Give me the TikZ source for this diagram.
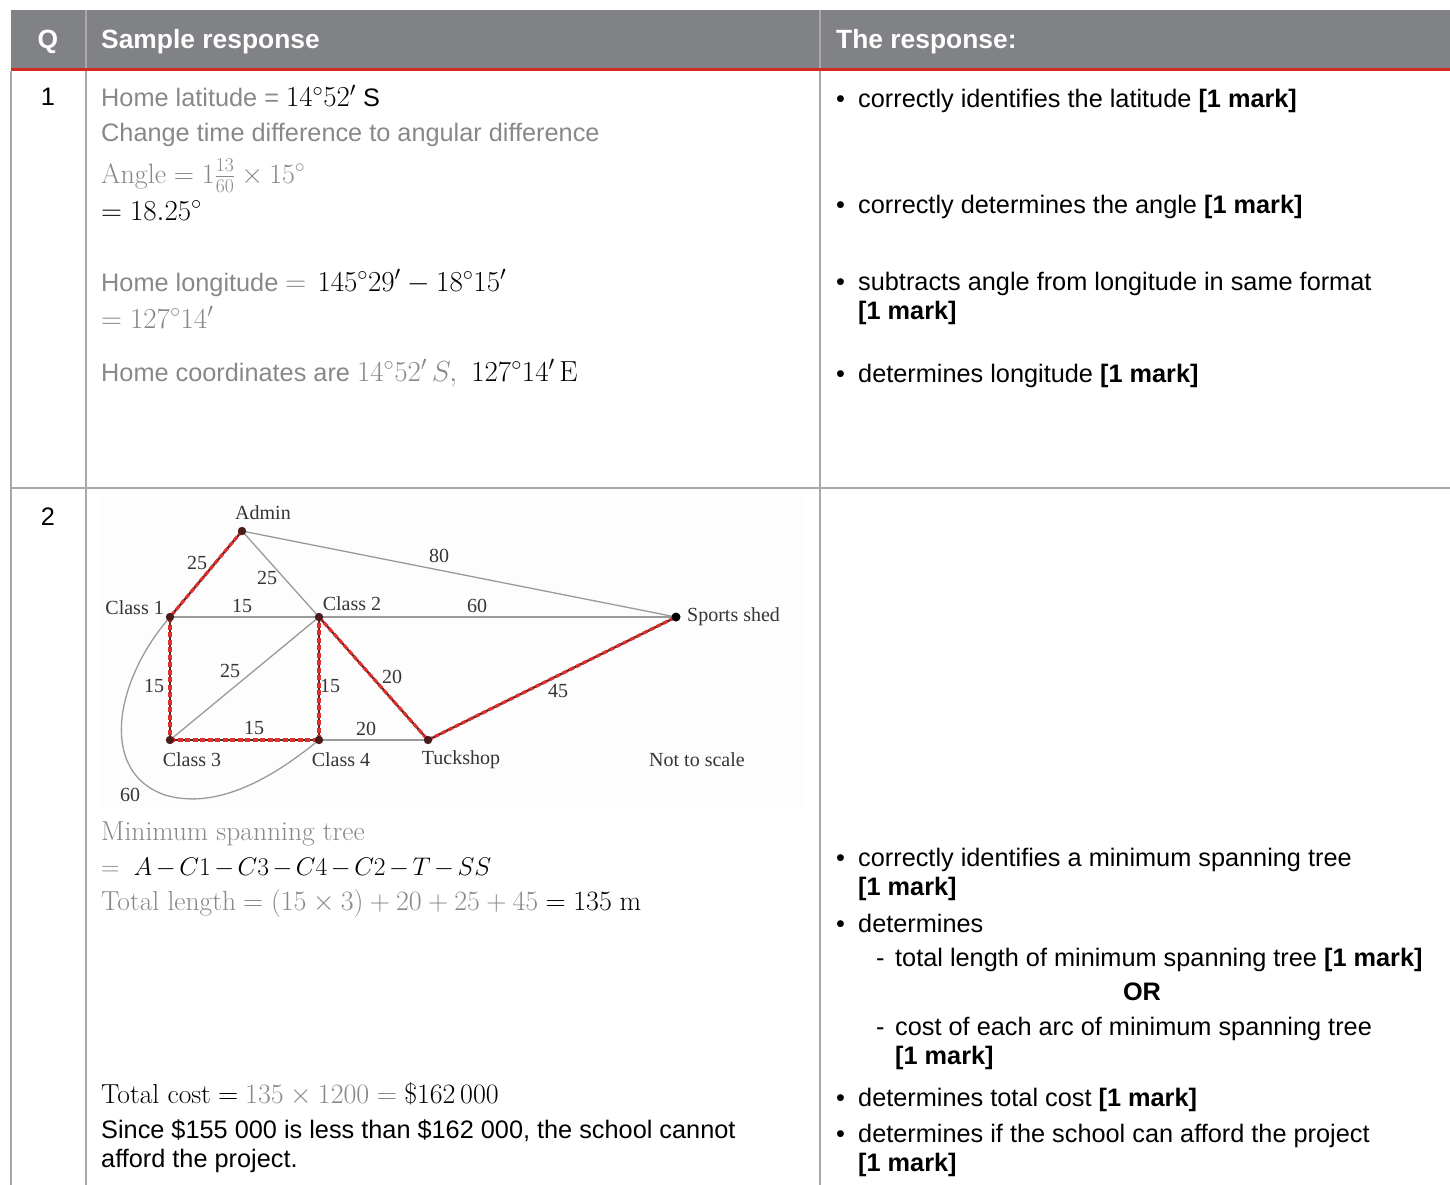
\RequirePackage{fix-cm}
\documentclass[tikz,border=0pt]{standalone}
\usepackage{fontspec}
\newfontfamily\arial{Liberation Sans}
\newfontfamily\tnr{Liberation Serif}
\definecolor{hdr}{HTML}{808285}
\definecolor{hdrsep}{HTML}{A9A9AD}
\definecolor{redline}{HTML}{D22B1F}
\definecolor{grid}{HTML}{A8A7AB}
\definecolor{tgray}{HTML}{888888}
\definecolor{gline}{HTML}{9A9A9A}
\definecolor{glabc}{HTML}{353535}
\definecolor{mst}{HTML}{E0302C}
\definecolor{mstdark}{HTML}{5A2626}
\definecolor{vdark}{HTML}{4A1C1C}
\definecolor{graphbg}{HTML}{FEFDFE}
\newcommand\bodyf{\arial\fontsize{25.3}{29}\selectfont}
\newcommand\boldf{\arial\bfseries\fontsize{25.3}{29}\selectfont}
\newcommand\hdrf{\arial\bfseries\fontsize{26.4}{30}\selectfont}
\newcommand\graphf{\tnr\fontsize{20}{24}\selectfont}
\newcommand\M[1]{{\fontsize{28}{29}\selectfont$#1$}}
\newcommand\MM[1]{{\fontsize{29}{29}\selectfont$#1$}}
\newcommand\Mr[1]{{\fontsize{27.5}{29}\selectfont\rmfamily #1}}
\tikzset{
  T/.style={anchor=base west, inner sep=0pt, font=\bodyf, text=black},
  G/.style={T, text=tgray},
  TB/.style={anchor=base, inner sep=0pt, font=\boldf, text=black},
  H/.style={anchor=base west, inner sep=0pt, font=\hdrf, text=white},
  gedge/.style={draw=gline, line width=1.3pt},
  mstbase/.style={draw=mstdark, line width=2.2pt},
  mstdash/.style={draw=mst, line width=3.2pt, dash pattern=on 5pt off 2.5pt},
  glab/.style={font=\graphf, text=glabc, inner sep=0pt},
  gridline/.style={draw=grid, line width=2pt},
}
\begin{document}
\begin{tikzpicture}[x=1pt,y=-1pt]
\useasboundingbox (0,0) rectangle (1450,1185);
% ---------- table frame ----------
\fill[hdr] (11,10) rectangle (1450,68);
\draw[hdrsep, line width=1.5pt] (86,10) -- (86,68);
\draw[hdrsep, line width=1.5pt] (820,10) -- (820,68);
\draw[redline, line width=3pt] (11,69.5) -- (1450,69.5);
\draw[gridline] (11,71) -- (11,1185);
\draw[gridline] (86,71) -- (86,1185);
\draw[gridline] (820,71) -- (820,1185);
\draw[gridline] (11,488) -- (1450,488);
% ---------- header ----------
\node[H, anchor=base] (hq) at (48,49) {Q};
\node[H] (hs) at (101,49) {Sample response};
\node[H] (hr) at (836,49) {The response:};
% ---------- row 1 ----------
\node[T, anchor=base] (q1) at (48,106) {1};
\node[G] (r1a) at (101,107) {Home latitude = \textcolor{black}{\MM{14^\circ 52'} S}};
\node[G] (r1b) at (101,142) {Change time difference to angular difference};
\node[G] (r1c) at (101,183) {\M{\mathrm{Angle} = 1\frac{13}{60}\times 15^\circ}};
\node[T] (r1d) at (101,220) {\MM{= 18.25^\circ}};
\node[G] (r1e) at (101,291) {Home longitude \MM{=}\, \textcolor{black}{\MM{145^\circ 29' - 18^\circ 15'}}};
\node[G] (r1f) at (101,328) {\MM{= 127^\circ 14'}};
\node[G] (r1g) at (101,381) {Home coordinates are \MM{14^\circ 52'\,S,}\ \ \textcolor{black}{\MM{127^\circ 14'\,\mathrm{E}}}};
% right column row 1
\node[T] (b1) at (836,108) {\textbullet};
\node[T] (m1) at (858,108) {correctly identifies the latitude \textbf{[1 mark]}};
\node[T] (b2) at (836,213) {\textbullet};
\node[T] (m2) at (858,213) {correctly determines the angle \textbf{[1 mark]}};
\node[T] (b3) at (836,290) {\textbullet};
\node[T] (m3) at (858,290) {subtracts angle from longitude in same format};
\node[T] (m3b) at (858,319) {\textbf{[1 mark]}};
\node[T] (b4) at (836,382) {\textbullet};
\node[T] (m4) at (858,382) {determines longitude \textbf{[1 mark]}};
% ---------- row 2 ----------
\node[T, anchor=base] (q2) at (48,525) {2};
% graph
\fill[graphbg] (100,497) rectangle (806,808);
\coordinate (A) at (242,531);
\coordinate (C1) at (170,617);
\coordinate (C2) at (319,617);
\coordinate (SS) at (676,617);
\coordinate (C3) at (170,740);
\coordinate (C4) at (319,740);
\coordinate (TS) at (428,740);
\draw[gedge] (A) -- (SS);
\draw[gedge] (A) -- (C2);
\draw[gedge] (C1) -- (C2);
\draw[gedge] (C2) -- (SS);
\draw[gedge] (C3) -- (C2);
\draw[gedge] (C4) -- (TS);
\draw[gedge] (C1) .. controls (115,680) and (98,772) .. (165,795) .. controls (222,812) and (282,770) .. (C4);
\foreach \u/\v in {A/C1, C1/C3, C3/C4, C4/C2, C2/TS, TS/SS}{
  \draw[mstbase] (\u) -- (\v);
  \draw[mstdash] (\u) -- (\v);
}
\foreach \p in {A, C1, C2, C3, C4, TS}{ \fill[vdark] (\p) circle (4.2); }
\fill[black] (SS) circle (4.5);
\node[glab] (lA) at (263,513) {Admin};
\node[glab, anchor=east] (lC1) at (164,608) {Class 1};
\node[glab] (lC2) at (352,604) {Class 2};
\node[glab, anchor=west] (lSS) at (687,617) {Sports shed};
\node[glab] (lC3) at (192,760) {Class 3};
\node[glab] (lC4) at (341,760) {Class 4};
\node[glab] (lTS) at (461,760) {Tuckshop};
\node[glab] (lNS) at (697,760) {Not to scale};
\node[glab] (e1) at (197,563) {25};
\node[glab] (e2) at (267,578) {25};
\node[glab] (e3) at (439,556) {80};
\node[glab] (e4) at (242,606) {15};
\node[glab] (e5) at (477,606) {60};
\node[glab] (e6) at (154,686) {15};
\node[glab] (e7) at (230,671) {25};
\node[glab] (e8) at (330,686) {15};
\node[glab] (e9) at (392,677) {20};
\node[glab] (e10) at (558,691) {45};
\node[glab] (e11) at (254,728) {15};
\node[glab] (e12) at (366,729) {20};
\node[glab] (e13) at (130,795) {60};
% text under graph
\node[G] (r2a) at (101,840) {\Mr{Minimum spanning tree}};
\node[G] (r2b) at (101,875) {{\fontsize{25.5}{29}\selectfont\medmuskip=2.5mu$=\ \textcolor{black}{A - C1 - C3 - C4 - C2 - T - SS}$}};
\node[G] (r2c) at (101,910) {\Mr{Total length}\ \M{= (15\times 3) + 20 + 25 + 45} \textcolor{black}{\M{= 135\ \mathrm{m}}}};
\node[T] (r2d) at (101,1103) {\Mr{Total cost} \M{=} \textcolor{tgray}{\M{135\times 1200 =}} \M{\$162\,000}};
\node[T] (r2e) at (101,1138) {Since \$155 000 is less than \$162 000, the school cannot};
\node[T] (r2f) at (101,1167) {afford the project.};
% right column row 2
\node[T] (b5) at (836,866) {\textbullet};
\node[T] (m5) at (858,866) {correctly identifies a minimum spanning tree};
\node[T] (m5b) at (858,895) {\textbf{[1 mark]}};
\node[T] (b6) at (836,932) {\textbullet};
\node[T] (m6) at (858,932) {determines};
\node[T] (d1) at (876,966) {-};
\node[T] (m6a) at (895,966) {total length of minimum spanning tree \textbf{[1 mark]}};
\node[TB] (or) at (1142,1000) {OR};
\node[T] (d2) at (876,1035) {-};
\node[T] (m6b) at (895,1035) {cost of each arc of minimum spanning tree};
\node[T] (m6c) at (895,1064) {\textbf{[1 mark]}};
\node[T] (b7) at (836,1106) {\textbullet};
\node[T] (m7) at (858,1106) {determines total cost \textbf{[1 mark]}};
\node[T] (b8) at (836,1142) {\textbullet};
\node[T] (m8) at (858,1142) {determines if the school can afford the project};
\node[T] (m8b) at (858,1171) {\textbf{[1 mark]}};
\end{tikzpicture}
\end{document}
